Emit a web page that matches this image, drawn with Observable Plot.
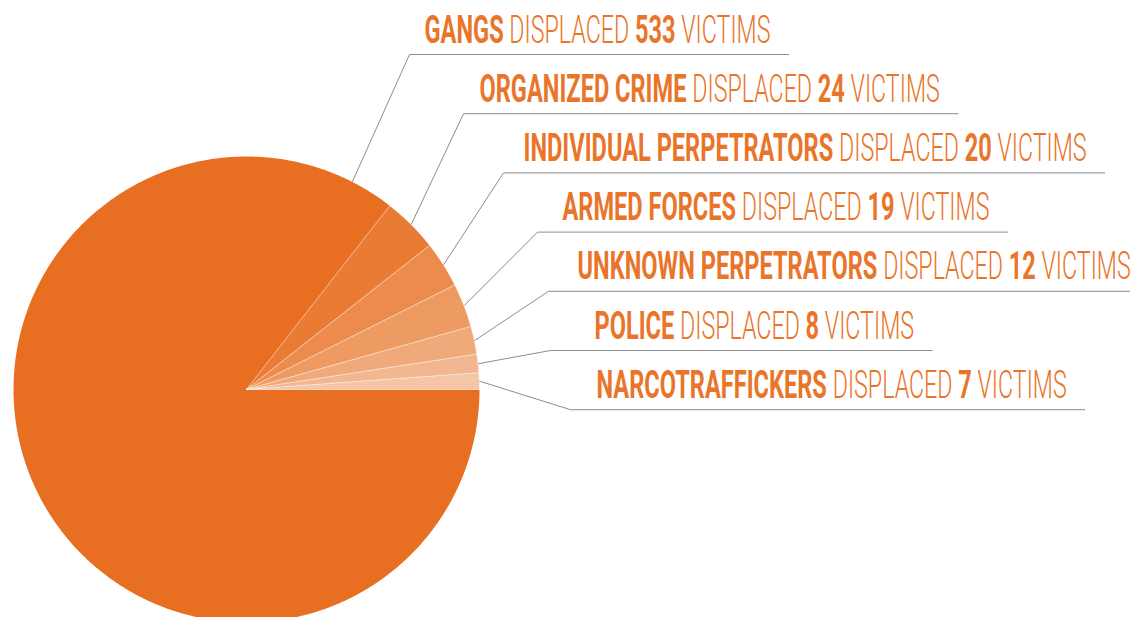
<!DOCTYPE html>
<html><head><meta charset="utf-8">
<script src="https://cdn.jsdelivr.net/npm/d3@7"></script>
<script src="https://cdn.jsdelivr.net/npm/@observablehq/plot@0.6"></script>
<style>html,body{margin:0;padding:0;background:#fff;overflow:hidden}</style>
</head><body><div id="chart"></div>
<script>
// ---- data ----
const perpetrators = ["GANGS","ORGANIZED CRIME","INDIVIDUAL PERPETRATORS","ARMED FORCES","UNKNOWN PERPETRATORS","POLICE","NARCOTRAFFICKERS"];
const victims = [533,24,20,19,12,8,7];
const verb = "DISPLACED";
const unit = "VICTIMS";

// ---- styles ----
const sliceColors = ["#E86F22","#EA7B35","#EC8B4C","#EE9B63","#F0A97A","#F2B790","#F5C6A6"];
const textColor = "#E9752A";
const lineColor = "#8c8c8c";
const FAMILY = "'Liberation Sans Narrow', 'Roboto', 'DejaVu Sans Condensed', sans-serif";
const FS = 38;
const targetFirstWidth = 346;   // width of the first label in px
const boldRel = 1.0, lightRel = 0.985; // relative condensing of bold vs light parts

// ---- layout ----
const W = 1130, H = 617, cx = 246, cy = 389, R = 233;
const labelX = [424, 479, 523, 562, 577, 594, 596];
const cornerX = [409, 463, 503, 537, 548, 550, 570];
const rowY0 = 54, rowStep = 59.2;
const firstAnchorDeg = 63;

// measure text with canvas
const ctx = document.createElement("canvas").getContext("2d");
function mw(s, weight) { ctx.font = `${weight} ${FS}px ${FAMILY}`; return ctx.measureText(s).width; }
const spaceW = mw(" ", "300");
function rawParts(i) {
  return [
    {t: perpetrators[i], w: "bold"}, {t: verb, w: "300"},
    {t: String(victims[i]), w: "bold"}, {t: unit, w: "300"}
  ].map(p => ({...p, width: mw(p.t, p.w)}));
}
const p0 = rawParts(0);
const B0 = d3.sum(p0.filter(p => p.w === "bold"), p => p.width);
const L0 = d3.sum(p0.filter(p => p.w !== "bold"), p => p.width) + 3 * spaceW;
const k = targetFirstWidth / (boldRel * B0 + lightRel * L0);
const kb = k * boldRel, kl = k * lightRel;

// pie geometry (counter-clockwise from 3 o'clock, last category first)
const total = d3.sum(victims);
const slices = [];
let acc = 0;
for (let i = victims.length - 1; i >= 0; i--) {
  const a0 = acc / total * 2 * Math.PI; acc += victims[i];
  const a1 = acc / total * 2 * Math.PI;
  slices[i] = {i, a0, a1};
}
const pt = (a, r) => ({x: cx + r * Math.cos(a), y: cy - r * Math.sin(a)});
function slicePts(s) {
  const n = Math.max(4, Math.ceil((s.a1 - s.a0) * 180 / Math.PI * 2));
  const pts = [{x: cx, y: cy}];
  for (let j = 0; j <= n; j++) pts.push(pt(s.a0 + (s.a1 - s.a0) * j / n, R));
  return pts;
}

const boldParts = [], lightParts = [], leaders = [];
perpetrators.forEach((p, i) => {
  const rowY = rowY0 + rowStep * i;
  let cursor = labelX[i];
  rawParts(i).forEach((part, j) => {
    const row = {t: part.t, x: cursor, y: rowY - 12};
    (part.w === "bold" ? boldParts : lightParts).push(row);
    cursor += part.width * (part.w === "bold" ? kb : kl);
    if (j < 3) cursor += spaceW * kl;
  });
  const s = slices[i];
  const a = i === 0 ? firstAnchorDeg * Math.PI / 180 : (s.a0 + s.a1) / 2;
  leaders.push([pt(a, R + 0.5), {x: cornerX[i], y: rowY}, {x: Math.min(cursor + 18, W + 5), y: rowY}]);
});

const marks = [];
slices.forEach((s, i) => {
  marks.push(Plot.line(slicePts(s), {x: "x", y: "y", curve: "linear-closed",
    fill: sliceColors[i], stroke: i === 0 ? "none" : "#ffffff", strokeOpacity: 0.45, strokeWidth: 0.8}));
});
leaders.forEach(l => marks.push(Plot.line(l, {x: "x", y: "y", stroke: lineColor, strokeWidth: 1})));
marks.push(Plot.text(boldParts, {x: "x", y: "y", text: "t", textAnchor: "start", lineAnchor: "bottom",
  fill: textColor, fontSize: FS, fontFamily: FAMILY, fontWeight: "bold"}));
marks.push(Plot.text(lightParts, {x: "x", y: "y", text: "t", textAnchor: "start", lineAnchor: "bottom",
  fill: textColor, fontSize: FS, fontFamily: FAMILY, fontWeight: 300}));

const chart = Plot.plot({
  width: W, height: H, margin: 0,
  x: {type: "linear", domain: [0, W], range: [0, W], axis: null},
  y: {type: "linear", domain: [0, H], range: [0, H], axis: null},
  style: {background: "#fff", overflow: "hidden"},
  marks
});
document.getElementById("chart").append(chart);

// condense text horizontally (narrow display face)
const textGroups = chart.querySelectorAll('g[aria-label="text"]');
[kb, kl].forEach((s, gi) => {
  const g = textGroups[gi];
  if (!g) return;
  g.querySelectorAll("text").forEach(el => {
    el.removeAttribute("dy"); el.removeAttribute("y");
    const tr = el.getAttribute("transform") || "";
    el.setAttribute("transform", tr + ` scale(${s},1)`);
  });
});
</script>
</body></html>
